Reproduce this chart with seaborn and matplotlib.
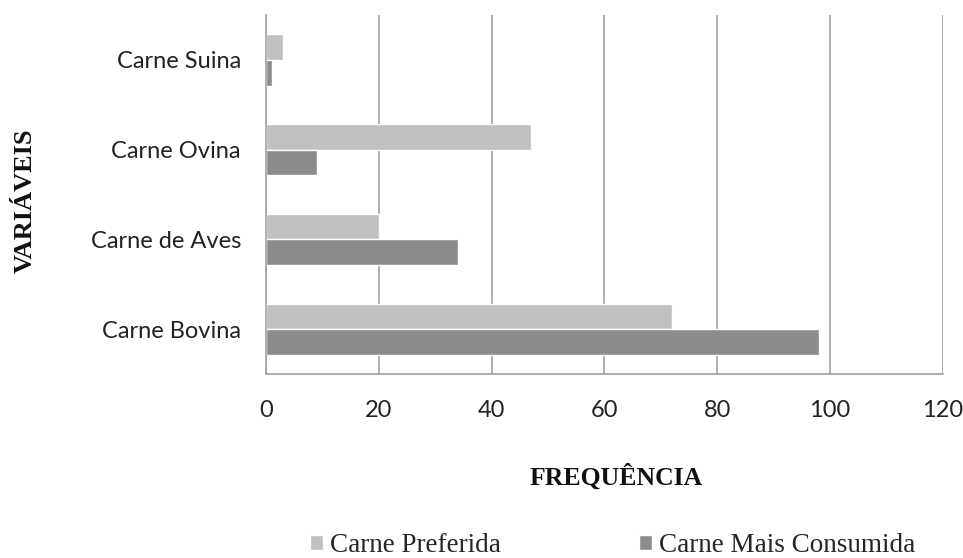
import matplotlib
matplotlib.use("Agg")
import matplotlib.pyplot as plt
import seaborn as sns
import pandas as pd

categories = ["Carne Suina", "Carne Ovina", "Carne de Aves", "Carne Bovina"]
preferida = [3, 47, 20, 72]
consumida = [1, 9, 34, 98]
series_names = ["Carne Preferida", "Carne Mais Consumida"]
x_ticks = [0, 20, 40, 60, 80, 100, 120]

df = pd.DataFrame({
    "cat": categories * 2,
    "val": preferida + consumida,
    "serie": [series_names[0]] * 4 + [series_names[1]] * 4,
})

sns.set_theme(style="white")
plt.rcParams["font.family"] = ["Lato", "DejaVu Sans"]

fig = plt.figure(figsize=(9.63, 5.58), dpi=100)
ax = fig.add_axes([0.2762, 0.3297, 0.979 - 0.2762, 0.973 - 0.3297])

ax.xaxis.grid(True, color="#9a9a9a", linewidth=1.1)
ax.set_axisbelow(True)

sns.barplot(data=df, y="cat", x="val", hue="serie", order=categories,
            hue_order=series_names, palette=["#c0c0c0", "#8c8c8c"],
            orient="h", width=0.57, ax=ax, saturation=1, legend=True)

ax.set_xlim(0, 120)
ax.set_xticks(x_ticks)
ax.set_xticklabels([str(t) for t in x_ticks])
ax.tick_params(axis="x", labelsize=17, colors="#222222", length=6, width=1,
               direction="out", pad=13, color="#9a9a9a")
ax.tick_params(axis="y", labelsize=17, colors="#222222", length=0, pad=18)
for s in ["top", "right"]:
    ax.spines[s].set_visible(False)
ax.spines["left"].set_color("#9a9a9a")
ax.spines["bottom"].set_color("#9a9a9a")
ax.spines["left"].set_linewidth(1.1)
ax.spines["bottom"].set_linewidth(1.1)

ax.set_xlabel("")
ax.set_ylabel("")
fig.text(616 / 963, 1 - 477 / 558, "FREQUÊNCIA", ha="center", va="center",
         fontsize=18.5, fontweight="bold", family=["Liberation Serif"], color="#111111")
fig.text(25 / 963, 1 - 201 / 558, "VARIÁVEIS", ha="center", va="center",
         rotation=90, fontsize=19, fontweight="bold", family=["Liberation Serif"],
         color="#111111")

handles, labels = ax.get_legend_handles_labels()
ax.legend_.remove()
fig.legend(handles, labels, loc="center", bbox_to_anchor=(612.5 / 963, 1 - 546 / 558),
           ncol=2, frameon=False, prop={"family": "Liberation Serif", "size": 19.5},
           handlelength=0.48, handleheight=0.48, handletextpad=0.26, columnspacing=5.1,
           borderpad=0.1)

fig.savefig("out.png", dpi=100)
